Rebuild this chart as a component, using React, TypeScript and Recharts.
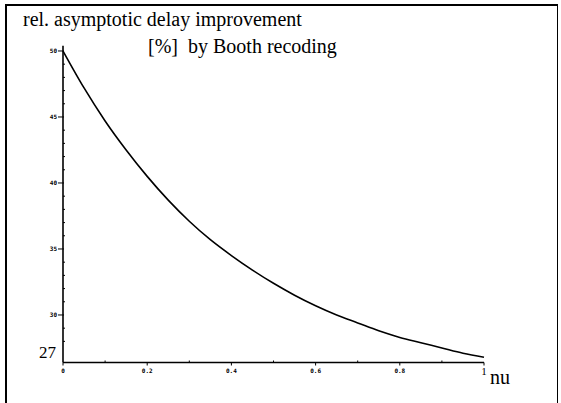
import React from 'react';
import { LineChart, Line, XAxis, YAxis } from 'recharts';

const nuValues = [0, 0.05, 0.1, 0.15, 0.2, 0.25, 0.3, 0.35, 0.4, 0.45, 0.5, 0.55, 0.6, 0.65, 0.7, 0.75, 0.8, 0.85, 0.9, 0.95, 1];
const improvementValues = [50.0, 47.2, 44.7, 42.5, 40.5, 38.7, 37.1, 35.7, 34.5, 33.4, 32.4, 31.5, 30.7, 30.0, 29.4, 28.8, 28.3, 27.9, 27.5, 27.1, 26.8];

const yTicks = [27, 28, 29, 30, 31, 32, 33, 34, 35, 36, 37, 38, 39, 40, 41, 42, 43, 44, 45, 46, 47, 48, 49, 50];
const yLabelTicks = [30, 35, 40, 45, 50];
const yBigLabel = 27;
const xTicks = [0, 0.1, 0.2, 0.3, 0.4, 0.5, 0.6, 0.7, 0.8, 0.9, 1];
const xLabelTicks = [0, 0.2, 0.4, 0.6, 0.8, 1];
const xTickLabels = ['0', '0.2', '0.4', '0.6', '0.8', '1'];

const titleLine1 = 'rel. asymptotic delay improvement';
const titleLine2 = '[%]  by Booth recoding';
const xAxisTitle = 'nu';

const data = nuValues.map((n, i) => ({ nu: n, v: improvementValues[i] }));

const W = 561;
const H = 403;
const AXIS_X = 63;
const AXIS_Y = 362.5;
const SERIF = "'Liberation Serif', 'DejaVu Serif', serif";
const TINY = "'DejaVu Sans Mono', monospace";

function YTick(props: any) {
  const { y, payload } = props;
  const v = payload.value;
  if (v === yBigLabel) {
    return (
      <text x={AXIS_X - 7} y={y - 2} textAnchor="end" dominantBaseline="central" fontFamily={SERIF} fontSize={17} fill="#000">
        {v}
      </text>
    );
  }
  if (yLabelTicks.includes(v)) {
    return (
      <g>
        <line x1={AXIS_X - 5} x2={AXIS_X + 1} y1={y} y2={y} stroke="#000" strokeWidth={1} />
        <text x={AXIS_X - 6} y={y} textAnchor="end" dominantBaseline="central" fontFamily={TINY} fontWeight="bold" fontSize={6} fill="#000">
          {v}
        </text>
      </g>
    );
  }
  return <line x1={AXIS_X} x2={AXIS_X + 2} y1={y} y2={y} stroke="#000" strokeWidth={1} />;
}

function XTick(props: any) {
  const { x, payload } = props;
  const v = payload.value;
  const idx = xLabelTicks.findIndex((t) => Math.abs(t - v) < 1e-9);
  if (idx >= 0) {
    const isOne = idx === xLabelTicks.length - 1;
    return (
      <g>
        <line x1={x} x2={x} y1={AXIS_Y} y2={AXIS_Y + 3} stroke="#000" strokeWidth={1} />
        <text
          x={x}
          y={AXIS_Y + 8}
          textAnchor="middle"
          dominantBaseline="central"
          fontFamily={isOne ? SERIF : TINY}
          fontWeight={isOne ? 'normal' : 'bold'}
          fontSize={isOne ? 11 : 6}
          fill="#000"
        >
          {xTickLabels[idx]}
        </text>
      </g>
    );
  }
  return <line x1={x} x2={x} y1={AXIS_Y - 2} y2={AXIS_Y} stroke="#000" strokeWidth={1} />;
}

export default function App() {
  return (
    <div style={{ position: 'absolute', left: 0, top: 0, width: W, height: H, background: '#fff', overflow: 'hidden' }}>
      <div
        style={{
          position: 'absolute',
          left: 5,
          top: 4,
          width: 550,
          height: 420,
          borderLeft: '2px solid #000',
          borderTop: '2px solid #000',
          borderRight: '1px solid #000',
        }}
      />
      <div style={{ position: 'absolute', left: 0, top: 0 }}>
        <LineChart width={W} height={H} data={data} margin={{ top: 45.7, right: 77, bottom: 20.5, left: 13 }}>
          <XAxis
            dataKey="nu"
            type="number"
            domain={[0, 1]}
            ticks={xTicks}
            tick={<XTick />}
            tickLine={false}
            axisLine={{ stroke: '#000', strokeWidth: 1.6 }}
            height={20}
            interval={0}
          />
          <YAxis
            type="number"
            domain={[26.4, 50.4]}
            ticks={yTicks}
            tick={<YTick />}
            tickLine={false}
            axisLine={{ stroke: '#000', strokeWidth: 1.6 }}
            width={50}
            interval={0}
            allowDataOverflow
          />
          <Line dataKey="v" type="monotone" stroke="#000" strokeWidth={1.6} dot={false} isAnimationActive={false} />
        </LineChart>
      </div>
      <svg width={W} height={H} style={{ position: 'absolute', left: 0, top: 0, pointerEvents: 'none' }}>
        <text x={23} y={26} fontFamily={SERIF} fontSize={20} fill="#000">
          {titleLine1}
        </text>
        <text x={148} y={53} fontFamily={SERIF} fontSize={20} fill="#000" style={{ whiteSpace: 'pre' }}>
          {titleLine2}
        </text>
        <text x={490} y={384} fontFamily={SERIF} fontSize={20} fill="#000">
          {xAxisTitle}
        </text>
      </svg>
    </div>
  );
}
